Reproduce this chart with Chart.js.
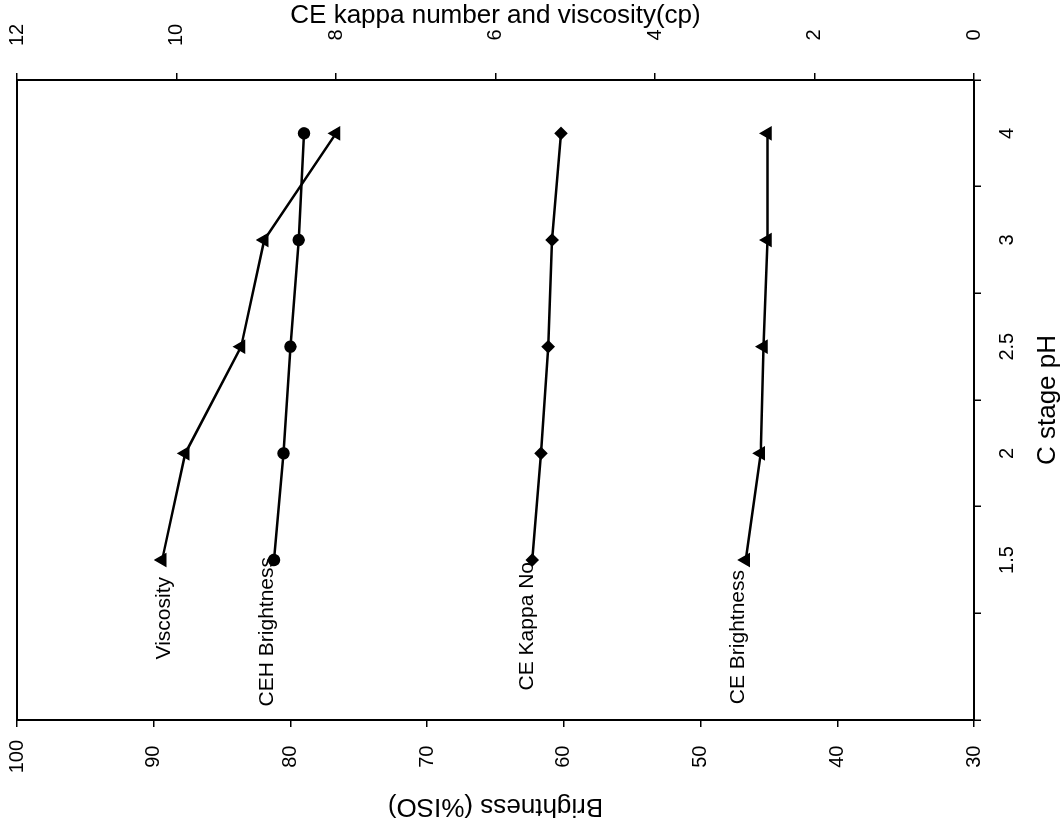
<!DOCTYPE html>
<html>
<head>
<meta charset="utf-8">
<title>C stage pH</title>
<script src="https://cdn.jsdelivr.net/npm/chart.js@4/dist/chart.umd.min.js"></script>
<style>
  html, body { margin: 0; padding: 0; background: #fff; overflow: hidden; }
  /* the scanned figure is turned on its side: draw it upright, then turn the canvas */
  #wrap {
    position: absolute; left: 0; top: 0;
    width: 824px; height: 1064px;
    transform-origin: 0 0;
    transform: translateY(824px) rotate(-90deg);
  }
</style>
</head>
<body>
<div id="wrap"><canvas id="chart" width="824" height="1064"></canvas></div>
<script>
// data
var phLabels = ['', '1.5', '2', '2.5', '3', '4'];
var viscosity = [null, 10.18, 9.89, 9.19, 8.90, 8.00];
var cehBrightness = [null, 81.2, 80.5, 80.0, 79.4, 79.0];
var ceKappa = [null, 5.54, 5.43, 5.34, 5.29, 5.18];
var ceBrightness = [null, 46.7, 45.6, 45.4, 45.1, 45.1];

var FONT = 'Arial, "Liberation Sans", sans-serif';
Chart.defaults.font.family = FONT;
Chart.defaults.color = '#000';

// series names written next to the first point
var seriesNames = {
  id: 'seriesNames',
  afterDatasetsDraw: function(chart) {
    var ctx = chart.ctx;
    ctx.save();
    ctx.font = '21px ' + FONT;
    ctx.fillStyle = '#000';
    ctx.textAlign = 'right';
    ctx.textBaseline = 'middle';
    chart.data.datasets.forEach(function(ds, i) {
      var pt = chart.getDatasetMeta(i).data[1];
      ctx.fillText(ds.label, pt.x - ds.nameGap, pt.y + ds.nameShift);
    });
    ctx.restore();
  }
};

// closing line of the plot frame
var frame = {
  id: 'frame',
  afterDraw: function(chart) {
    var a = chart.chartArea, ctx = chart.ctx;
    ctx.save();
    ctx.strokeStyle = '#000';
    ctx.lineWidth = 2;
    ctx.beginPath();
    ctx.moveTo(a.left, a.top);
    ctx.lineTo(a.right, a.top);
    ctx.stroke();
    ctx.restore();
  }
};

function line(label, data, axis, style, radius, gap, shift) {
  return {
    label: label,
    data: data,
    yAxisID: axis,
    borderColor: '#000',
    backgroundColor: '#000',
    borderWidth: 2.5,
    pointStyle: style,
    pointRadius: radius,
    pointBackgroundColor: '#000',
    pointBorderColor: '#000',
    tension: 0,
    nameGap: gap,
    nameShift: shift
  };
}

function noPad(s) { s.paddingTop = 0; s.paddingBottom = 0; s.paddingLeft = 0; s.paddingRight = 0; }

new Chart(document.getElementById('chart').getContext('2d'), {
  type: 'line',
  data: {
    labels: phLabels,
    datasets: [
      line('Viscosity', viscosity, 'y1', 'triangle', 6, 17, 2),
      line('CEH Brightness', cehBrightness, 'y', 'circle', 5, -3, -7),
      line('CE Kappa No', ceKappa, 'y1', 'rectRot', 5, 2, -5),
      line('CE Brightness', ceBrightness, 'y', 'triangle', 6, 10, -7)
    ]
  },
  options: {
    responsive: false,
    animation: false,
    layout: { padding: { top: 17, left: 0, right: 0, bottom: 0 } },
    plugins: { legend: { display: false }, tooltip: { enabled: false } },
    scales: {
      x: {
        type: 'category',
        offset: true,
        grid: { offset: true, drawOnChartArea: false, tickLength: 7, color: '#000', lineWidth: 1.5 },
        border: { color: '#000', width: 2 },
        ticks: { font: { size: 20 }, padding: 14, maxRotation: 0 },
        title: { display: true, text: 'C stage pH', font: { size: 26 }, padding: { top: 0, bottom: 1 } },
        afterFit: function(s) { s.height = 90; noPad(s); }
      },
      y: {
        position: 'left',
        min: 30,
        max: 100,
        grid: { drawOnChartArea: false, tickLength: 7, color: '#000', lineWidth: 1.5 },
        border: { color: '#000', width: 2 },
        ticks: { stepSize: 10, font: { size: 20 }, padding: 13, crossAlign: 'center' },
        title: { display: true, text: 'Brightness (%ISO)', font: { size: 26 }, padding: { top: 2, bottom: 0 } },
        afterFit: function(s) { s.width = 104; noPad(s); }
      },
      y1: {
        position: 'right',
        min: 0,
        max: 12,
        grid: { drawOnChartArea: false, tickLength: 7, color: '#000', lineWidth: 1.5 },
        border: { color: '#000', width: 2 },
        ticks: { stepSize: 2, font: { size: 20 }, padding: 27, crossAlign: 'center' },
        title: { display: true, text: 'CE kappa number and viscosity(cp)', font: { size: 26 }, padding: { top: 0, bottom: 0 } },
        afterFit: function(s) { s.width = 80; noPad(s); }
      }
    }
  },
  plugins: [seriesNames, frame]
});
</script>
</body>
</html>
